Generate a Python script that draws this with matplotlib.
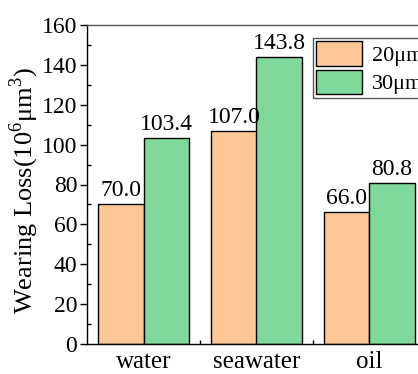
import numpy as np
import matplotlib
matplotlib.use("Agg")
import matplotlib.pyplot as plt

categories = ["water", "seawater", "oil"]
series_names = ["20μm", "30μm"]
values_20 = [70.0, 107.0, 66.0]
values_30 = [103.4, 143.8, 80.8]

plt.rcParams["font.family"] = ["Liberation Serif", "DejaVu Serif"]
plt.rcParams["mathtext.fontset"] = "custom"
plt.rcParams["mathtext.rm"] = "Liberation Serif"

colors = {"20μm": "#FDC896", "30μm": "#7FD99A"}

fig = plt.figure(figsize=(4.18, 3.74), dpi=100)
ax = fig.add_axes([87 / 418, 1 - 344 / 374, (426 - 87) / 418, (344 - 25) / 374])

x = np.arange(len(categories))
w = 0.4
b1 = ax.bar(x - w / 2, values_20, w, color=colors["20μm"], edgecolor="black",
            linewidth=1, label=series_names[0])
b2 = ax.bar(x + w / 2, values_30, w, color=colors["30μm"], edgecolor="black",
            linewidth=1, label=series_names[1])

for bars in (b1, b2):
    for rect in bars:
        h = rect.get_height()
        ax.text(rect.get_x() + rect.get_width() / 2, h + 1.5, f"{h:.1f}",
                ha="center", va="bottom", fontsize=17)

ax.set_xlim(-0.5, 2.5)
ax.set_ylim(0, 160)
ax.set_yticks(np.arange(0, 161, 20))
ax.set_yticks(np.arange(10, 160, 20), minor=True)
ax.set_xticks(x)
ax.set_xticklabels(categories)
ax.set_xticks([0.5, 1.5], minor=True)

ax.tick_params(axis="y", which="major", direction="out", length=5, width=1, labelsize=17, pad=2)
ax.tick_params(axis="y", which="minor", direction="in", length=3, width=1)
ax.tick_params(axis="x", which="major", length=0, labelsize=18, pad=5)
ax.tick_params(axis="x", which="minor", direction="in", length=3, width=1)

ax.set_ylabel("Wearing Loss(10$^{6}$μm$^{3}$)", fontsize=19)
ax.yaxis.set_label_coords(-0.135, 0.48)

for s in ax.spines.values():
    s.set_linewidth(1)
ax.spines["top"].set_color("#555555")

ax.legend(loc="upper left", bbox_to_anchor=(313 / 418, 1 - 38 / 374),
          bbox_transform=fig.transFigure, fontsize=16, frameon=True,
          fancybox=False, edgecolor="#555555", framealpha=1,
          handlelength=2.07, handleheight=1.3, labelspacing=0.18,
          borderpad=0.15, borderaxespad=0, handletextpad=0.45)

fig.savefig("out.png", dpi=100)
